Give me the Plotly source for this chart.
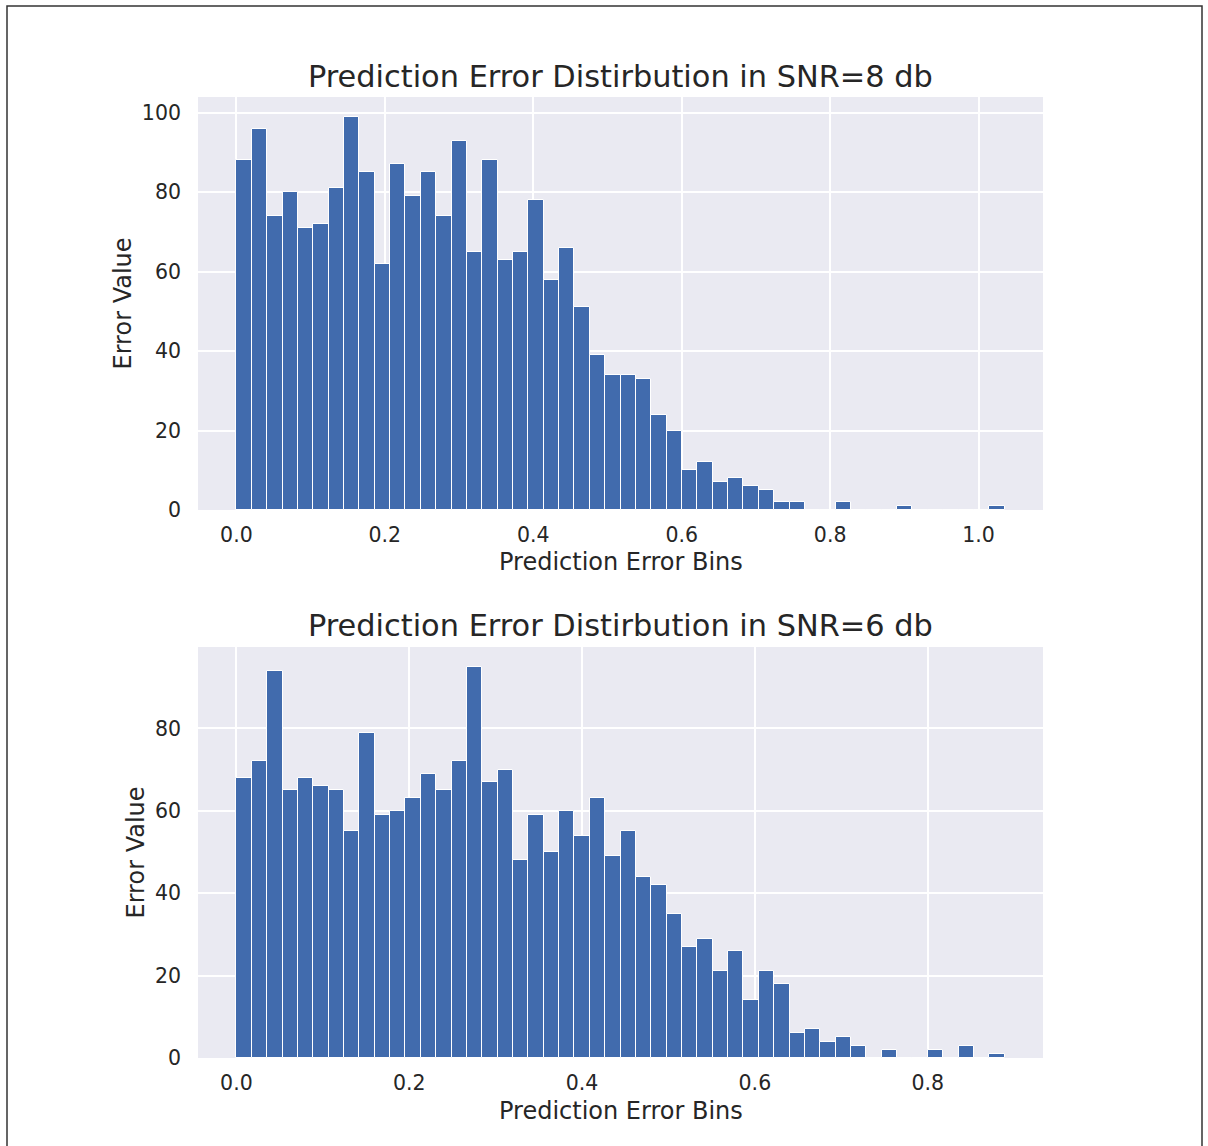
import numpy as np
import plotly.graph_objects as go

# ---------------- data ----------------
titles = ["Prediction Error Distirbution in SNR=8 db",
          "Prediction Error Distirbution in SNR=6 db"]
x_label = "Prediction Error Bins"
y_label = "Error Value"

counts_snr8 = [88, 96, 74, 80, 71, 72, 81, 99, 85, 62,
               87, 79, 85, 74, 93, 65, 88, 63, 65, 78,
               58, 66, 51, 39, 34, 34, 33, 24, 20, 10,
               12, 7, 8, 6, 5, 2, 2, 0, 0, 2,
               0, 0, 0, 1, 0, 0, 0, 0, 0, 1]
range_snr8 = [0.0, 1.035]

counts_snr6 = [68, 72, 94, 65, 68, 66, 65, 55, 79, 59,
               60, 63, 69, 65, 72, 95, 67, 70, 48, 59,
               50, 60, 54, 63, 49, 55, 44, 42, 35, 27,
               29, 21, 26, 14, 21, 18, 6, 7, 4, 5,
               3, 0, 2, 0, 0, 2, 0, 3, 0, 1]
range_snr6 = [0.0, 0.889]

xticks_snr8 = [0.0, 0.2, 0.4, 0.6, 0.8, 1.0]
xticks_snr6 = [0.0, 0.2, 0.4, 0.6, 0.8]
yticks_snr8 = [0, 20, 40, 60, 80, 100]
yticks_snr6 = [0, 20, 40, 60, 80]

# ---------------- layout geometry (pixels) ----------------
W, H = 1208, 1146
L, R, T, B = 198, 1043, 97, 1058
top_bottom = 510
bot_top = 647

def px_x(p):
    return (p - L) / (R - L)

def px_y(p):
    return (B - p) / (B - T)

BAR_COLOR = "#416BAD"
BG = "#EAEAF2"
TXT = "#262626"
FONT = "DejaVu Sans"

fig = go.Figure()

def add_hist(counts, rng, xa, ya):
    n = len(counts)
    edges = np.linspace(rng[0], rng[1], n + 1)
    centers = (edges[:-1] + edges[1:]) / 2
    width = edges[1] - edges[0]
    fig.add_trace(go.Bar(
        x=centers, y=counts, width=width,
        marker=dict(color=BAR_COLOR, line=dict(color="white", width=1)),
        xaxis=xa, yaxis=ya, showlegend=False,
    ))

add_hist(counts_snr8, range_snr8, "x", "y")
add_hist(counts_snr6, range_snr6, "x2", "y2")

def margin_range(rng, frac=0.05):
    span = rng[1] - rng[0]
    return [rng[0] - frac * span, rng[1] + frac * span]

axis_common = dict(
    showgrid=True, gridcolor="white", gridwidth=1.5,
    zeroline=False, showline=False, ticks="",
    tickfont=dict(family=FONT, size=20.5, color=TXT),
)

fig.update_layout(
    width=W, height=H,
    margin=dict(l=L, r=W - R, t=T, b=H - B),
    paper_bgcolor="white", plot_bgcolor=BG,
    bargap=0, showlegend=False,
    font=dict(family=FONT, color=TXT),
    xaxis=dict(domain=[0, 1], anchor="y",
               range=margin_range(range_snr8),
               tickvals=xticks_snr8,
               ticktext=[f"{v:.1f}" for v in xticks_snr8],
               ticklabelstandoff=10, **axis_common),
    yaxis=dict(domain=[px_y(top_bottom), 1], anchor="x",
               range=[0, max(counts_snr8) * 1.05],
               tickvals=yticks_snr8, ticklabelstandoff=16, **axis_common),
    xaxis2=dict(domain=[0, 1], anchor="y2",
                range=margin_range(range_snr6),
                tickvals=xticks_snr6,
                ticktext=[f"{v:.1f}" for v in xticks_snr6],
                ticklabelstandoff=10, **axis_common),
    yaxis2=dict(domain=[0, px_y(bot_top)], anchor="x2",
                range=[0, max(counts_snr6) * 1.05],
                tickvals=yticks_snr6, ticklabelstandoff=16, **axis_common),
)

def ann(text, xp, yp, size, angle=0):
    fig.add_annotation(
        text=text, x=px_x(xp), y=px_y(yp), xref="paper", yref="paper",
        showarrow=False, xanchor="center", yanchor="middle",
        textangle=angle, font=dict(family=FONT, size=size, color=TXT),
    )

cx = (L + R) / 2
ann(titles[0], cx, 76, 30.4)
ann(titles[1], cx, 625, 30.4)
ann(x_label, cx, 562, 24)
ann(x_label, cx, 1111, 24)
ann(y_label, 122, (T + top_bottom) / 2, 24, angle=-90)
ann(y_label, 135, (bot_top + B) / 2, 24, angle=-90)

# outer frame
fig.add_shape(type="rect", xref="paper", yref="paper",
              x0=px_x(7), x1=px_x(1202), y0=px_y(1160), y1=px_y(6),
              line=dict(color="#333333", width=1.5), fillcolor="rgba(0,0,0,0)",
              layer="above")

fig.write_html("out.html")
